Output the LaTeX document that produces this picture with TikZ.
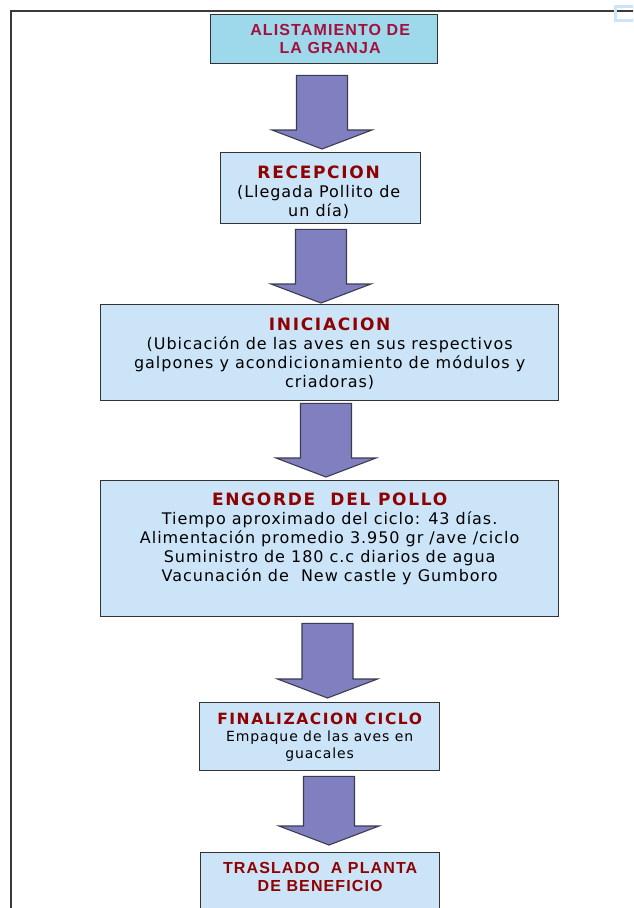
\documentclass[tikz,border=0pt]{standalone}
\usepackage{fontspec}
\setmainfont{DejaVu Sans}
\newfontfamily\cuerpo{DejaVu Sans}[LetterSpace=6]
\newfontfamily\cuerpochico{DejaVu Sans}[LetterSpace=6.5]
\newfontfamily\titulo{DejaVu Sans Bold}[LetterSpace=10]
\newfontfamily\titarial{Liberation Sans Bold}[LetterSpace=7]
\usetikzlibrary{calc}

\definecolor{cajaazul}{HTML}{CCE4F8}
\definecolor{cajacian}{HTML}{9DD9EA}
\definecolor{flechafill}{HTML}{8080C0}
\definecolor{flechaborde}{HTML}{3C3C50}
\definecolor{rojotit}{HTML}{8E0000}
\definecolor{carmin}{HTML}{A3103E}
\definecolor{marco}{HTML}{3A3A3A}
\definecolor{bordecaja}{HTML}{333333}

\tikzset{
  caja/.style={draw=bordecaja, line width=1.3pt, fill=cajaazul,
    rectangle, inner sep=0pt},
  texto/.style={inner sep=0pt, align=center, anchor=north,
    font=\cuerpo\fontsize{16}{19}\selectfont},
  flechas/.style={draw=flechaborde, line width=1.1pt, fill=flechafill,
    line join=miter},
}
\newcommand{\tit}[1]{{\titulo\fontsize{17}{19}\selectfont\color{rojotit}#1}}

% fat block arrow: x-centre, upper box, lower box, gap under upper, gap over lower
\newcommand{\flecha}[5]{%
  \path[flechas] let \p1=(#2.south), \p2=(#3.north) in
    (#1pt-25.5pt,\y1-#4pt) -- (#1pt+25.5pt,\y1-#4pt)
    -- (#1pt+25.5pt,\y2+#5pt+19pt) -- (#1pt+50pt,\y2+#5pt+19pt)
    -- (#1pt,\y2+#5pt) -- (#1pt-50pt,\y2+#5pt+19pt)
    -- (#1pt-25.5pt,\y2+#5pt+19pt) -- cycle;}

\begin{document}
\begin{tikzpicture}[x=1pt, y=-1pt]
\useasboundingbox (0,0) rectangle (633,908);
\clip (0,0) rectangle (633,908);
\fill[white] (0,0) rectangle (633,908);

% page frame
\draw[marco, line width=1.6pt] (11,908) -- (11,11) -- (640,11);
\draw[cajaazul, line width=3pt] (615,6) rectangle (645,20);

% boxes
\node[caja, fill=cajacian, minimum width=227pt, minimum height=49pt, anchor=north west] (b1) at (210,14) {};
\node[caja, minimum width=200pt, minimum height=71pt, anchor=north west] (b2) at (220,152) {};
\node[caja, minimum width=458pt, minimum height=96pt, anchor=north west] (b3) at (100,304) {};
\node[caja, minimum width=458pt, minimum height=136pt, anchor=north west] (b4) at (100,480) {};
\node[caja, minimum width=240pt, minimum height=68pt, anchor=north west] (b5) at (199,702) {};
\node[caja, minimum width=239pt, minimum height=80pt, anchor=north west] (b6) at (200,852) {};

% texts
\node[texto, font=\titarial\fontsize{16}{18}\selectfont, text=carmin] (t1) at ($(b1.north)+(6,10)$)
  {ALISTAMIENTO DE\\LA GRANJA};
\node[texto] (t2) at ($(b2.north)+(-2,14)$)
  {\tit{RECEPCION}\\(Llegada Pollito de\\un día)};
\node[texto] (t3) at ($(b3.north)+(0,14)$)
  {\tit{INICIACION}\\(Ubicación de las aves en sus respectivos\\galpones y acondicionamiento de módulos y\\criadoras)};
\node[texto] (t4) at ($(b4.north)+(0,13)$)
  {\tit{ENGORDE\ \ DEL POLLO}\\Tiempo aproximado del ciclo: 43 días.\\Alimentación promedio 3.950 gr /ave /ciclo\\Suministro de 180 c.c diarios de agua\\Vacunación de\ \ New castle y Gumboro};
\node[texto, font=\cuerpochico\fontsize{14}{17}\selectfont] (t5) at ($(b5.north)+(0,11)$)
  {{\titulo\fontsize{15.5}{17}\selectfont\color{rojotit}FINALIZACION CICLO}\\Empaque de las aves en\\guacales};
\node[texto, font=\titarial\fontsize{16}{18}\selectfont, text=rojotit] (t6) at ($(b6.north)+(0,10)$)
  {TRASLADO\ \ A PLANTA\\DE BENEFICIO};

% arrows between the stages
\flecha{322}{b1}{b2}{11}{3}
\flecha{321}{b2}{b3}{5}{1}
\flecha{326}{b3}{b4}{2}{3}
\flecha{327.5}{b4}{b5}{6}{4}
\flecha{329}{b5}{b6}{5}{7}
\end{tikzpicture}
\end{document}
